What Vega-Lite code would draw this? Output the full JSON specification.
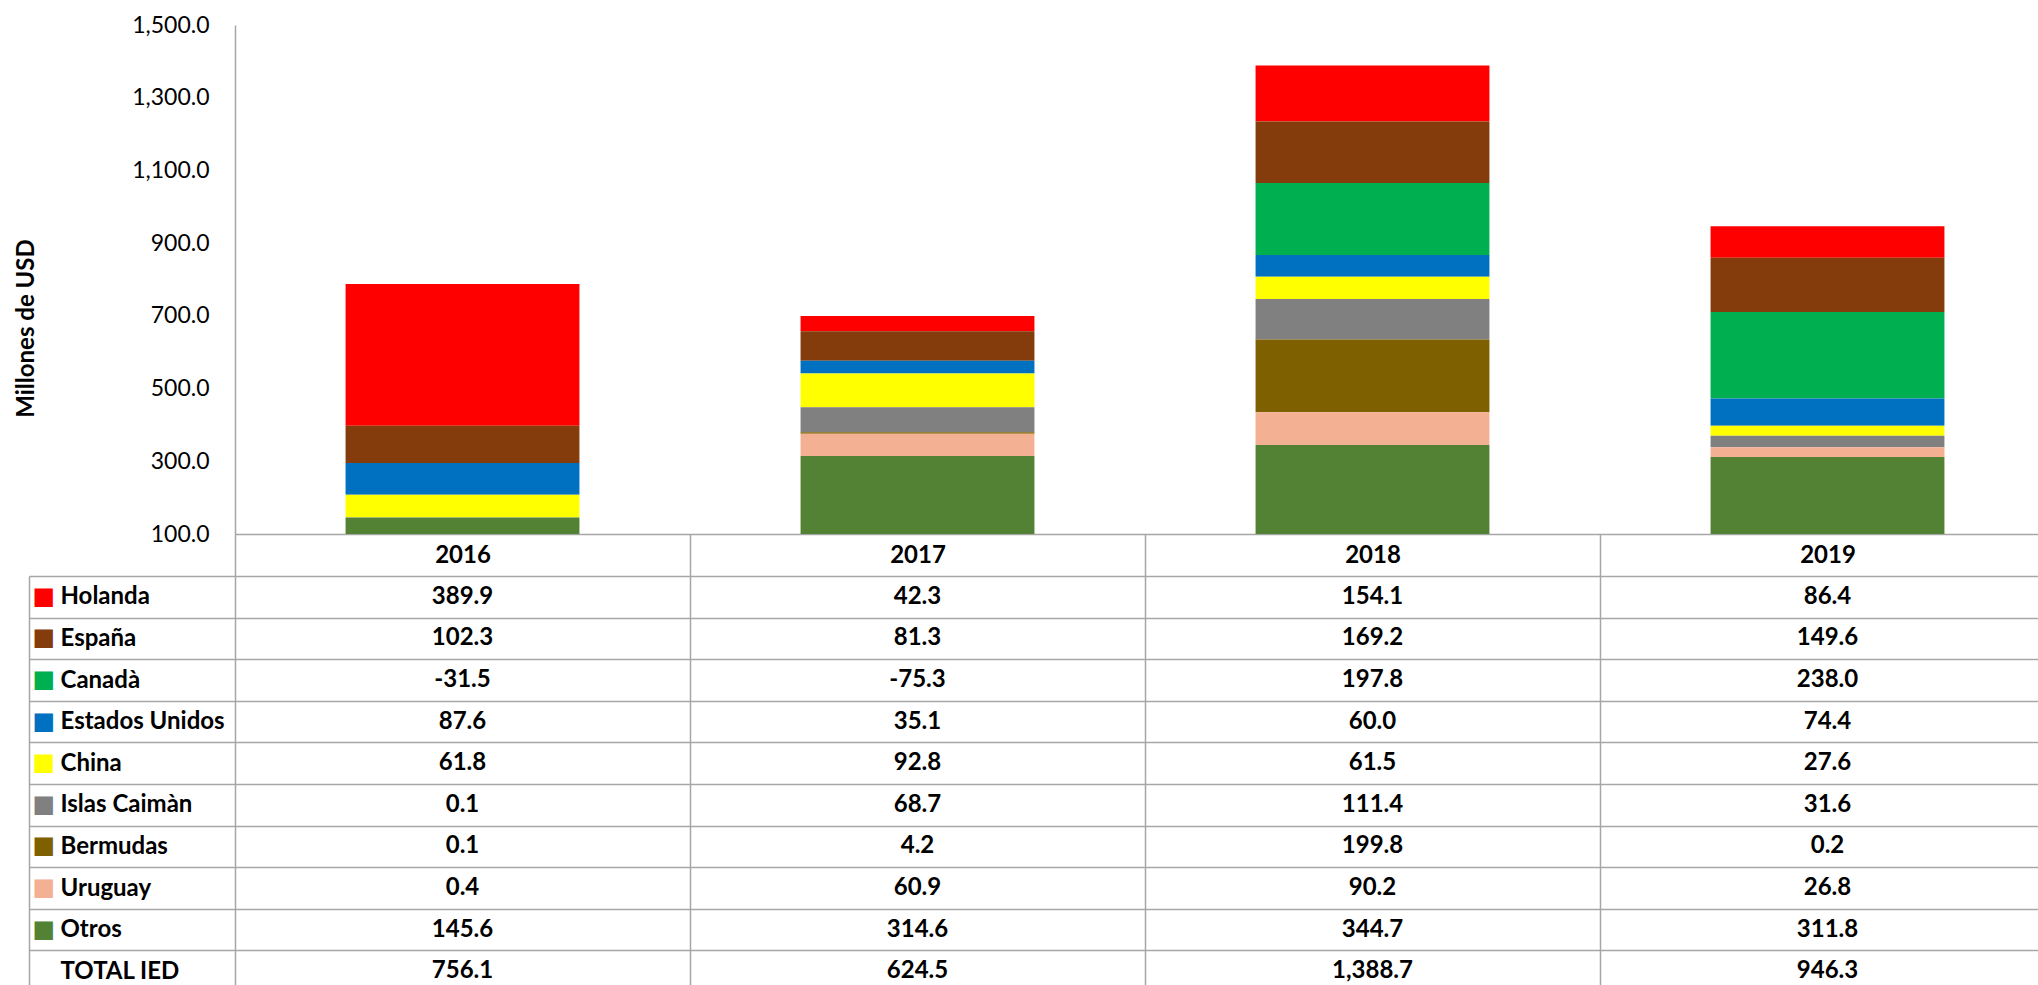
{
  "$schema": "https://vega.github.io/schema/vega-lite/v6.json",
  "background": "white",
  "padding": {"left": 14, "top": 14, "right": 0, "bottom": 0},
  "config": {
    "font": "Lato",
    "view": {"stroke": null},
    "locale": {"number": {"decimal": ".", "thousands": ",", "grouping": [3], "currency": ["$", ""], "minus": "-"}}
  },
  "datasets": {
    "ied": [
      {"year": "2016", "series": "Holanda", "value": 389.9},
      {"year": "2017", "series": "Holanda", "value": 42.3},
      {"year": "2018", "series": "Holanda", "value": 154.1},
      {"year": "2019", "series": "Holanda", "value": 86.4},
      {"year": "2016", "series": "España", "value": 102.3},
      {"year": "2017", "series": "España", "value": 81.3},
      {"year": "2018", "series": "España", "value": 169.2},
      {"year": "2019", "series": "España", "value": 149.6},
      {"year": "2016", "series": "Canadà", "value": -31.5},
      {"year": "2017", "series": "Canadà", "value": -75.3},
      {"year": "2018", "series": "Canadà", "value": 197.8},
      {"year": "2019", "series": "Canadà", "value": 238.0},
      {"year": "2016", "series": "Estados Unidos", "value": 87.6},
      {"year": "2017", "series": "Estados Unidos", "value": 35.1},
      {"year": "2018", "series": "Estados Unidos", "value": 60.0},
      {"year": "2019", "series": "Estados Unidos", "value": 74.4},
      {"year": "2016", "series": "China", "value": 61.8},
      {"year": "2017", "series": "China", "value": 92.8},
      {"year": "2018", "series": "China", "value": 61.5},
      {"year": "2019", "series": "China", "value": 27.6},
      {"year": "2016", "series": "Islas Caimàn", "value": 0.1},
      {"year": "2017", "series": "Islas Caimàn", "value": 68.7},
      {"year": "2018", "series": "Islas Caimàn", "value": 111.4},
      {"year": "2019", "series": "Islas Caimàn", "value": 31.6},
      {"year": "2016", "series": "Bermudas", "value": 0.1},
      {"year": "2017", "series": "Bermudas", "value": 4.2},
      {"year": "2018", "series": "Bermudas", "value": 199.8},
      {"year": "2019", "series": "Bermudas", "value": 0.2},
      {"year": "2016", "series": "Uruguay", "value": 0.4},
      {"year": "2017", "series": "Uruguay", "value": 60.9},
      {"year": "2018", "series": "Uruguay", "value": 90.2},
      {"year": "2019", "series": "Uruguay", "value": 26.8},
      {"year": "2016", "series": "Otros", "value": 145.6},
      {"year": "2017", "series": "Otros", "value": 314.6},
      {"year": "2018", "series": "Otros", "value": 344.7},
      {"year": "2019", "series": "Otros", "value": 311.8},
      {"year": "2016", "series": "TOTAL IED", "value": 756.1},
      {"year": "2017", "series": "TOTAL IED", "value": 624.5},
      {"year": "2018", "series": "TOTAL IED", "value": 1388.7},
      {"year": "2019", "series": "TOTAL IED", "value": 946.3}
    ]
  },
  "data": {"name": "ied"},
  "bounds": "flush",
  "spacing": 42,
  "vconcat": [
    {
      "width": 1820,
      "height": 509,
      "transform": [
        {"filter": "datum.series !== 'TOTAL IED'"},
        {"calculate": "indexof(['Otros', 'Uruguay', 'Bermudas', 'Islas Caimàn', 'China', 'Estados Unidos', 'Canadà', 'España', 'Holanda'], datum.series)", "as": "stackOrder"}
      ],
      "mark": {"type": "bar", "clip": true},
      "encoding": {
        "x": {
          "field": "year", "type": "nominal",
          "scale": {"paddingInner": 0.486, "paddingOuter": 0.243},
          "axis": {"labels": false, "ticks": false, "title": null, "grid": false, "domain": true, "domainColor": "#a6a6a6", "domainWidth": 1.5}
        },
        "y": {
          "field": "value", "type": "quantitative", "stack": "zero",
          "scale": {"domain": [100, 1500], "nice": false, "zero": false},
          "axis": {
            "values": [100, 300, 500, 700, 900, 1100, 1300, 1500],
            "format": ",.1f", "grid": false, "ticks": false,
            "labelPadding": 26, "labelFontSize": 23, "labelColor": "#000000",
            "domainColor": "#a6a6a6", "domainWidth": 1.5,
            "title": "Millones de USD", "titleFontSize": 24, "titleFontWeight": "bold", "titleColor": "#000000",
            "titleX": -209, "titleY": 303, "titleBaseline": "middle", "titleAngle": -90
          }
        },
        "color": {
          "field": "series", "type": "nominal",
          "scale": {
            "domain": ["Holanda", "España", "Canadà", "Estados Unidos", "China", "Islas Caimàn", "Bermudas", "Uruguay", "Otros"],
            "range": ["#ff0000", "#843c0c", "#00b050", "#0070c0", "#ffff00", "#808080", "#7f6000", "#f4b093", "#548235"]
          },
          "legend": null
        },
        "order": {"field": "stackOrder", "type": "quantitative", "sort": "ascending"}
      }
    },
    {
      "width": 1820,
      "height": 416,
      "resolve": {"axis": {"y": "independent"}},
      "layer": [
        {
          "mark": {"type": "text", "fontWeight": "bold", "fontSize": 24, "color": "#000000"},
          "encoding": {
            "x": {
              "field": "year", "type": "nominal",
              "scale": {"paddingInner": 0, "paddingOuter": 0},
              "axis": {
                "orient": "top", "title": null, "labelAngle": 0,
                "labelFontWeight": "bold", "labelFontSize": 24, "labelColor": "#000000",
                "labelPadding": -21, "labelBaseline": "middle",
                "tickBand": "extent", "ticks": true, "tickSize": 42, "tickColor": "#a6a6a6", "tickWidth": 1.5,
                "grid": true, "gridColor": "#a6a6a6", "gridWidth": 1.5, "gridOpacity": 1,
                "domain": false
              }
            },
            "y": {
              "field": "series", "type": "nominal",
              "scale": {"domain": ["Holanda", "España", "Canadà", "Estados Unidos", "China", "Islas Caimàn", "Bermudas", "Uruguay", "Otros", "TOTAL IED"], "paddingInner": 0, "paddingOuter": 0},
              "axis": {
                "orient": "left", "title": null,
                "labelFontWeight": "bold", "labelFontSize": 24, "labelColor": "#000000",
                "labelAlign": "left", "labelBaseline": "middle", "labelPadding": -31, "labelLimit": 400, "labelOverlap": false,
                "tickBand": "extent", "ticks": true, "tickSize": 206, "tickColor": "#a6a6a6", "tickWidth": 1.5,
                "grid": true, "gridColor": "#a6a6a6", "gridWidth": 1.5, "gridOpacity": 1,
                "domain": false
              }
            },
            "text": {"field": "value", "type": "quantitative", "format": ",.1f"}
          }
        },
        {
          "mark": {"type": "text", "opacity": 0},
          "encoding": {
            "x": {"field": "year", "type": "nominal"},
            "y": {
              "field": "series", "type": "nominal",
              "axis": {
                "orient": "left", "title": null, "offset": 206,
                "labelExpr": "datum.value === 'TOTAL IED' ? '' : '■'",
                "labelFont": "DejaVu Sans", "labelFontSize": 24,
                "labelColor": {
                  "condition": [
                    {"test": "datum.value === 'Holanda'", "value": "#ff0000"},
                    {"test": "datum.value === 'España'", "value": "#843c0c"},
                    {"test": "datum.value === 'Canadà'", "value": "#00b050"},
                    {"test": "datum.value === 'Estados Unidos'", "value": "#0070c0"},
                    {"test": "datum.value === 'China'", "value": "#ffff00"},
                    {"test": "datum.value === 'Islas Caimàn'", "value": "#808080"},
                    {"test": "datum.value === 'Bermudas'", "value": "#7f6000"},
                    {"test": "datum.value === 'Uruguay'", "value": "#f4b093"},
                    {"test": "datum.value === 'Otros'", "value": "#548235"}
                  ],
                  "value": "#000000"
                },
                "labelAlign": "left", "labelBaseline": "middle", "labelPadding": -3, "labelOverlap": false,
                "ticks": false, "grid": false,
                "domain": true, "domainColor": "#a6a6a6", "domainWidth": 1.5
              }
            },
            "text": {"value": ""}
          }
        }
      ]
    }
  ]
}
